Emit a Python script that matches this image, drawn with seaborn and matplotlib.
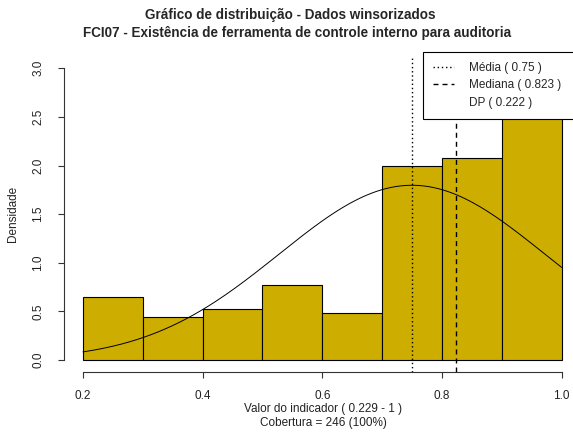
import numpy as np
import pandas as pd
import matplotlib
matplotlib.use("Agg")
import matplotlib.pyplot as plt
from matplotlib.lines import Line2D
import seaborn as sns

# Histogram data: bin edges and counts per bin (n = 246)
bin_edges = [0.2, 0.3, 0.4, 0.5, 0.6, 0.7, 0.8, 0.9, 1.0]
bin_counts = [16, 11, 13, 19, 12, 49, 51, 75]

# Summary statistics
media = 0.75
mediana = 0.823
dp = 0.222
valor_min = 0.229
valor_max = 1
cobertura = 246

x_ticks = [0.2, 0.4, 0.6, 0.8, 1.0]
y_ticks = [0.0, 0.5, 1.0, 1.5, 2.0, 2.5, 3.0]

sns.set_theme(style="ticks")
plt.rcParams["font.family"] = ["Liberation Sans", "DejaVu Sans"]

W, H = 573, 436
fig = plt.figure(figsize=(W / 100, H / 100), dpi=100)

# plot region in pixels (R-style 4% axis extension)
xlim = (0.168, 1.032)
ylim = (-0.12, 3.12)
left_px, right_px = 63.8, 580.7
top_px, bottom_px = 56.6, 371.7
ax = fig.add_axes([left_px / W, 1 - bottom_px / H,
                   (right_px - left_px) / W, (bottom_px - top_px) / H])
ax.patch.set_alpha(0)

mids = [(a + b) / 2 for a, b in zip(bin_edges[:-1], bin_edges[1:])]
df = pd.DataFrame({"valor": mids, "n": bin_counts})
sns.histplot(data=df, x="valor", weights="n", bins=bin_edges, stat="density",
             color="#CDAD00", edgecolor="black", linewidth=0.8, alpha=1,
             ax=ax, zorder=2)

# Normal density curve
xs = np.linspace(bin_edges[0], bin_edges[-1], 200)
ys = np.exp(-0.5 * ((xs - media) / dp) ** 2) / (dp * np.sqrt(2 * np.pi))
sns.lineplot(x=xs, y=ys, color="black", linewidth=0.7, ax=ax, zorder=3)

dot_style = (0, (1, 2))
dash_style = (0, (3.6, 2.9))
ax.axvline(media, color="black", linestyle=dot_style, linewidth=1.0, zorder=4)
ax.axvline(mediana, color="black", linestyle=dash_style, linewidth=1.0, zorder=4)

ax.set_xlim(*xlim)
ax.set_ylim(*ylim)
ax.set_xticks(x_ticks)
ax.set_xticklabels([f"{v:.1f}" for v in x_ticks])
ax.set_yticks(y_ticks)
ax.set_yticklabels([f"{v:.1f}" for v in y_ticks], rotation=90, va="center")
for s in ["top", "right"]:
    ax.spines[s].set_visible(False)
ax.spines["left"].set_bounds(y_ticks[0], y_ticks[-1])
ax.spines["bottom"].set_bounds(x_ticks[0], x_ticks[-1])
for s in ["left", "bottom"]:
    ax.spines[s].set_color("#333333")
    ax.spines[s].set_linewidth(0.8)
ax.tick_params(axis="both", length=4.5, width=0.8, color="#333333",
               labelsize=8.5, labelcolor="#222222")
ax.tick_params(axis="x", pad=8.5)
ax.tick_params(axis="y", pad=9.5)
ax.set_xlabel("")
ax.set_ylabel("")

# Legend
handles = [Line2D([], [], color="black", linestyle=dot_style, linewidth=1.0),
           Line2D([], [], color="black", linestyle=dash_style, linewidth=1.0),
           Line2D([], [], color="none")]
labels = [f"Média ( {media} )", f"Mediana ( {mediana} )", f"DP ( {dp} )"]
leg = ax.legend(handles, labels, loc="upper left", mode="expand",
                bbox_to_anchor=(422.7 / W, 1 - 52 / H, 200 / W, 0.0),
                bbox_transform=fig.transFigure, fontsize=8.5,
                frameon=True, fancybox=False, framealpha=1, edgecolor="black",
                borderpad=0.85, labelspacing=0.45, handlelength=1.8,
                handletextpad=1.3, borderaxespad=0)
leg.get_frame().set_linewidth(0.8)
leg.set_zorder(6)

# Titles and axis labels
fig.text(290 / W, 1 - 15 / H, "Gráfico de distribuição - Dados winsorizados",
         ha="center", va="center", fontsize=9.75, fontweight="bold")
fig.text(297 / W, 1 - 33 / H,
         "FCI07 - Existência de ferramenta de controle interno para auditoria",
         ha="center", va="center", fontsize=9.75, fontweight="bold")
fig.text(323 / W, 1 - 409 / H, f"Valor do indicador ( {valor_min} - {valor_max} )",
         ha="center", va="center", fontsize=8.5, color="#222222")
fig.text(323 / W, 1 - 423 / H, f"Cobertura = {cobertura} (100%)",
         ha="center", va="center", fontsize=8.5, color="#222222")
fig.text(13 / W, 1 - 214 / H, "Densidade", ha="center", va="center",
         rotation=90, fontsize=8.5, color="#222222")

fig.savefig("out.png", dpi=100)
